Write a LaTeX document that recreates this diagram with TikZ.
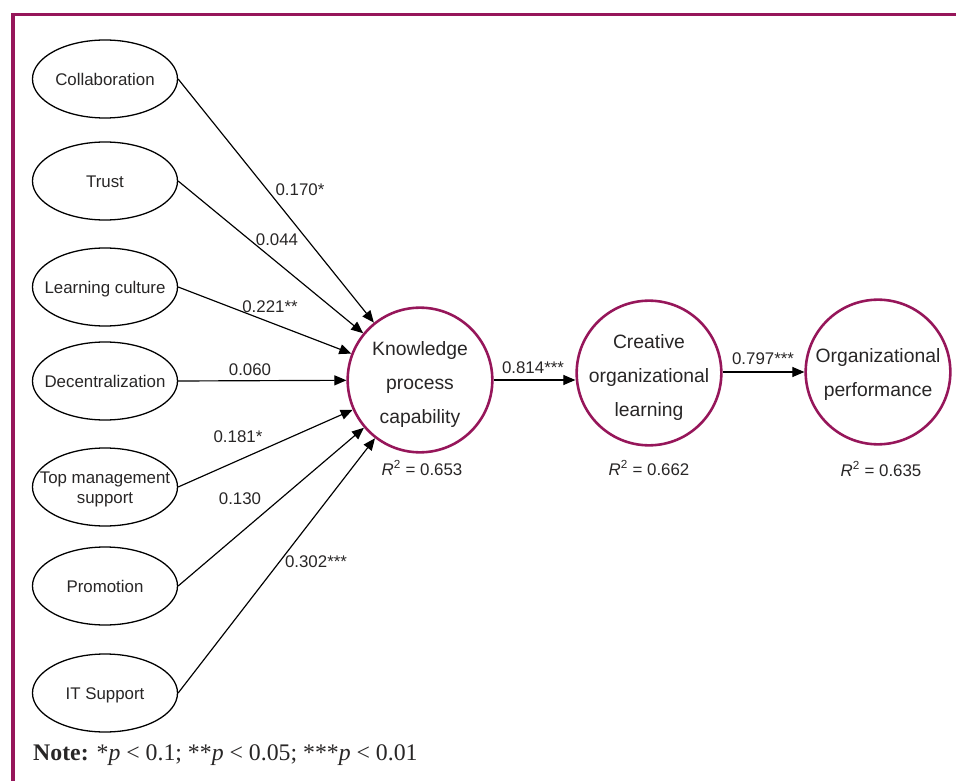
\documentclass[tikz,border=0pt]{standalone}
\usepackage{fontspec}
\setmainfont{Liberation Sans}
\newfontfamily\notefont{Liberation Serif}
\usetikzlibrary{shapes.geometric,arrows.meta}
\definecolor{plum}{RGB}{150,22,90}
\definecolor{ink}{RGB}{40,38,38}
\newcommand{\zbox}[2][-2.1pt]{\raisebox{#1}[\height][\depth]{\makebox[0pt]{\begin{tabular}{@{}c@{}}#2\end{tabular}}}}

\begin{document}
\begin{tikzpicture}
	[x=0.3mm, y=-0.3mm,
	 var/.style={ellipse, draw, line width=1.1pt, inner sep=0pt, text=ink, minimum width=43.5mm, minimum height=23.4mm, font=\fontsize{14.4}{17.5}\selectfont},
	 lat/.style={circle, draw=plum, line width=2.2pt, inner sep=0pt, text=ink, minimum size=43.4mm, font=\fontsize{16.5}{29}\selectfont},
	 arr/.style={-{Triangle[length=3.6mm,width=3mm]}, line width=1pt},
	 coef/.style={inner sep=0pt, text=ink, font=\fontsize{14.4}{17}\selectfont}]
	\useasboundingbox (0,0) rectangle (956,781);
	\draw[plum, line width=3pt] (13,781) -- (13,14.5) -- (956,14.5);

	\node[var] (colla) at (105,79) {\zbox{Collaboration}};
	\node[var] (trust) at (105,181) {\zbox{Trust}};
	\node[var] (lcult) at (105,287) {\zbox{Learning culture}};
	\node[var] (decen) at (105,381) {\zbox{Decentralization}};
	\node[var] (topm) at (105,487) {\zbox{Top management\\support}};
	\node[var] (promo) at (105,586) {\zbox{Promotion}};
	\node[var] (itsup) at (105,693) {\zbox{IT Support}};

	\node[lat] (kpc) at (420,380) {\zbox{Knowledge\\process\\capability}};
	\node[lat] (col) at (649,373) {\zbox{Creative\\organizational\\learning}};
	\node[lat] (op) at (878,372) {\zbox[-0.8pt]{Organizational\\performance}};

	\foreach \v in {colla,trust,lcult,decen,topm,promo,itsup}
		\draw[arr] (\v.east) -- (kpc);
	\draw[arr] (kpc) -- (kpc -| col.west);
	\draw[arr] (col.east |- op.west) -- (op.west);

	\node[coef] (c1) at (300,190) {0.170*};
	\node[coef] (c2) at (277,240) {0.044};
	\node[coef] (c3) at (270,307) {0.221**};
	\node[coef] (c4) at (250,370) {0.060};
	\node[coef] (c5) at (238,437) {0.181*};
	\node[coef] (c6) at (240,499) {0.130};
	\node[coef] (c7) at (316,562) {0.302***};
	\node[coef] (c8) at (533,368) {0.814***};
	\node[coef] (c9) at (763,359) {0.797***};

	\node[coef] (r1) at (422,468) {{\itshape R}\textsuperscript{2} = 0.653};
	\node[coef] (r2) at (649,468) {{\itshape R}\textsuperscript{2} = 0.662};
	\node[coef] (r3) at (881,469) {{\itshape R}\textsuperscript{2} = 0.635};

	\node[anchor=base west, inner sep=0pt, text=ink, font=\notefont\fontsize{20.3}{24}\selectfont] (note) at (33,760)
		{\textbf{Note:} *\textit{p} < 0.1; **\textit{p} < 0.05; ***\textit{p} < 0.01};
\end{tikzpicture}
\end{document}
